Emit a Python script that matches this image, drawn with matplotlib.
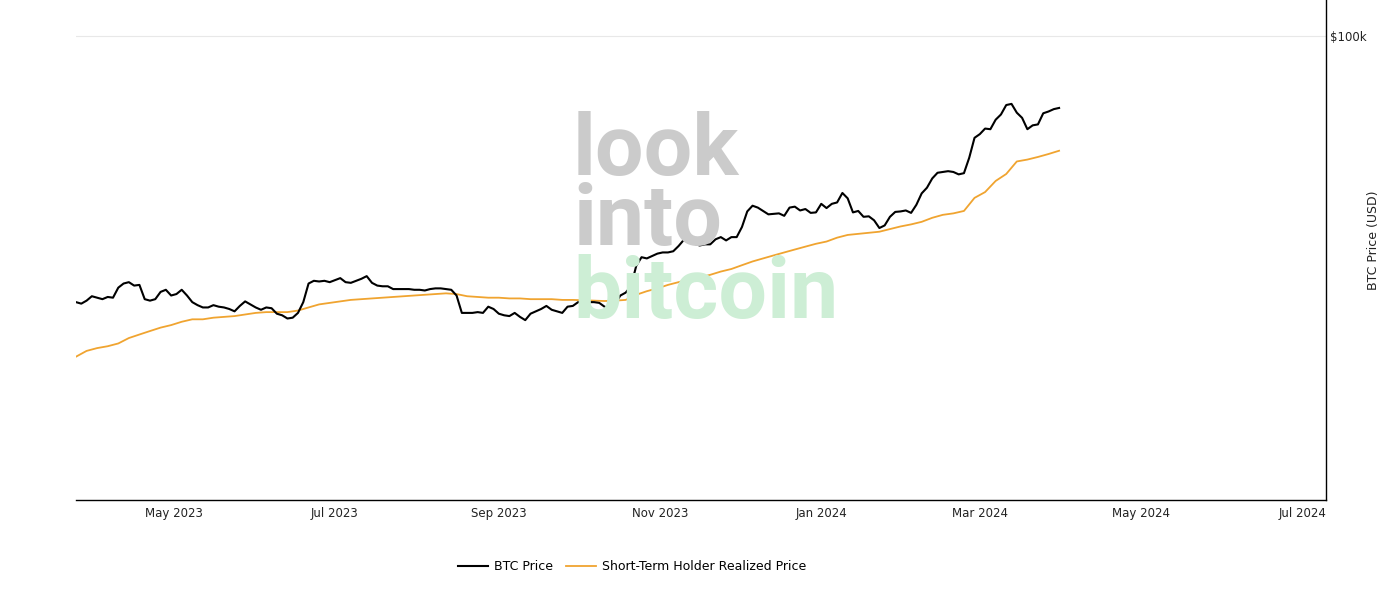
import numpy as np
import pandas as pd
import matplotlib
matplotlib.use("Agg")
import matplotlib.pyplot as plt
import matplotlib.dates as mdates
from matplotlib.ticker import FixedLocator, NullLocator

# BTC price, every 2 days (thousands of USD)
btc_dates = pd.date_range("2023-03-25", periods=187, freq="2D")
btc_price_k = [
    27.6, 27.4, 27.8, 28.4, 28.2, 28.0, 28.3, 28.2, 29.6, 30.2,
    30.4, 29.9, 30.0, 28.0, 27.8, 28.0, 29.0, 29.3, 28.5, 28.7,
    29.3, 28.5, 27.6, 27.2, 26.9, 26.9, 27.2, 27.0, 26.9, 26.7,
    26.4, 27.1, 27.7, 27.3, 26.9, 26.6, 26.9, 26.8, 26.1, 25.9,
    25.5, 25.6, 26.2, 27.6, 30.2, 30.6, 30.5, 30.6, 30.4, 30.7,
    31.0, 30.4, 30.3, 30.6, 30.9, 31.3, 30.3, 29.9, 29.8, 29.8,
    29.4, 29.4, 29.4, 29.4, 29.3, 29.3, 29.2, 29.4, 29.5, 29.5,
    29.4, 29.3, 28.5, 26.2, 26.2, 26.2, 26.3, 26.2, 27.0, 26.7,
    26.1, 25.9, 25.8, 26.2, 25.7, 25.3, 26.1, 26.4, 26.7, 27.1,
    26.6, 26.4, 26.2, 27.0, 27.1, 27.6, 27.6, 27.6, 27.6, 27.5,
    27.0, 26.8, 27.4, 28.5, 28.9, 29.8, 32.9, 34.3, 34.1, 34.5,
    34.9, 35.1, 35.1, 35.3, 36.2, 37.3, 36.8, 36.6, 36.3, 36.5,
    36.5, 37.4, 37.8, 37.2, 37.8, 37.8, 39.7, 42.8, 44.0, 43.6,
    42.9, 42.2, 42.3, 42.4, 41.9, 43.6, 43.8, 43.0, 43.3, 42.5,
    42.6, 44.4, 43.5, 44.4, 44.7, 46.8, 45.6, 42.6, 42.9, 41.7,
    41.8, 41.0, 39.5, 40.0, 41.7, 42.7, 42.8, 43.0, 42.5, 44.2,
    46.7, 48.0, 50.2, 51.6, 51.8, 52.0, 51.8, 51.2, 51.5, 55.5,
    61.1, 62.2, 63.9, 63.7, 66.7, 68.4, 71.6, 72.0, 69.0, 67.3,
    63.7, 64.9, 65.2, 68.8, 69.4, 70.2, 70.6,
]

# Short-term holder realized price, every 4 days (thousands of USD)
sth_dates = pd.date_range("2023-03-25", periods=94, freq="4D")
sth_price_k = [
    21.2, 21.8, 22.1, 22.3, 22.6, 23.2, 23.6, 24.0, 24.4, 24.7,
    25.1, 25.4, 25.4, 25.6, 25.7, 25.8, 26.0, 26.2, 26.3, 26.3,
    26.3, 26.5, 26.9, 27.3, 27.5, 27.7, 27.9, 28.0, 28.1, 28.2,
    28.3, 28.4, 28.5, 28.6, 28.7, 28.8, 28.7, 28.4, 28.3, 28.2,
    28.2, 28.1, 28.1, 28.0, 28.0, 28.0, 27.9, 27.9, 27.85, 27.8,
    27.75, 27.8, 27.9, 28.6, 29.1, 29.5, 30.0, 30.4, 30.8, 31.1,
    31.5, 32.0, 32.4, 33.0, 33.6, 34.1, 34.6, 35.1, 35.6, 36.1,
    36.6, 37.0, 37.7, 38.2, 38.4, 38.6, 38.8, 39.3, 39.8, 40.2,
    40.7, 41.5, 42.1, 42.4, 42.9, 45.7, 47.0, 49.6, 51.3, 54.5,
    55.0, 55.7, 56.5, 57.4,
]

x_ticks = pd.date_range("2023-05-01", periods=8, freq="2MS")
y_ticks = [100000]
y_tick_labels = ["$100k"]

fig = plt.figure(figsize=(13.97, 5.91), dpi=100)
ax = fig.add_axes([76 / 1397, 91 / 591, 1250 / 1397, 500 / 591])

btc = np.array(btc_price_k) * 1000
sth = np.array(sth_price_k) * 1000

# watermark
fig.text(573 / 1397, 1 - 175 / 591, "look", color="#cbcbcb", fontsize=62,
         fontweight="bold", family="Roboto", va="baseline", ha="left", zorder=0)
fig.text(573 / 1397, 1 - 245 / 591, "into", color="#cbcbcb", fontsize=62,
         fontweight="bold", family="Roboto", va="baseline", ha="left", zorder=0)
fig.text(573 / 1397, 1 - 318 / 591, "bitcoin", color="#cdeed5", fontsize=62,
         fontweight="bold", family="Roboto", va="baseline", ha="left", zorder=0)
ax.set_facecolor("none")

ax.plot(btc_dates, btc, color="#000000", lw=1.5, label="BTC Price", zorder=3)
ax.plot(sth_dates, sth, color="#f0a430", lw=1.3,
        label="Short-Term Holder Realized Price", zorder=2)

ax.set_yscale("log")
ax.set_ylim(10600, 119000)
ax.set_xlim(pd.Timestamp("2023-03-25"), pd.Timestamp("2024-07-10"))

ax.yaxis.tick_right()
ax.yaxis.set_label_position("right")
ax.yaxis.set_major_locator(FixedLocator(y_ticks))
ax.set_yticklabels(y_tick_labels)
ax.yaxis.set_minor_locator(NullLocator())
ax.grid(axis="y", color="#e8e8e8", lw=0.8)

ax.xaxis.set_major_locator(FixedLocator(mdates.date2num(x_ticks)))
ax.set_xticklabels([d.strftime("%b %Y") for d in x_ticks])

ax.tick_params(axis="both", length=0, labelsize=8.5, colors="#222222")
ax.tick_params(axis="x", pad=5)
ax.tick_params(axis="y", pad=3)

for side in ["left", "top"]:
    ax.spines[side].set_visible(False)
for side in ["right", "bottom"]:
    ax.spines[side].set_color("#000000")
    ax.spines[side].set_linewidth(1.0)

ax.set_ylabel("BTC Price (USD)", fontsize=9, color="#222222")
ax.yaxis.set_label_coords(1.033, 0.52)

fig.legend(loc="center", bbox_to_anchor=(632 / 1397, 1 - 567 / 591), ncol=2,
           frameon=False, fontsize=9, handlelength=2.4, handletextpad=0.5,
           columnspacing=1.0)

fig.savefig("out.png", dpi=100)
